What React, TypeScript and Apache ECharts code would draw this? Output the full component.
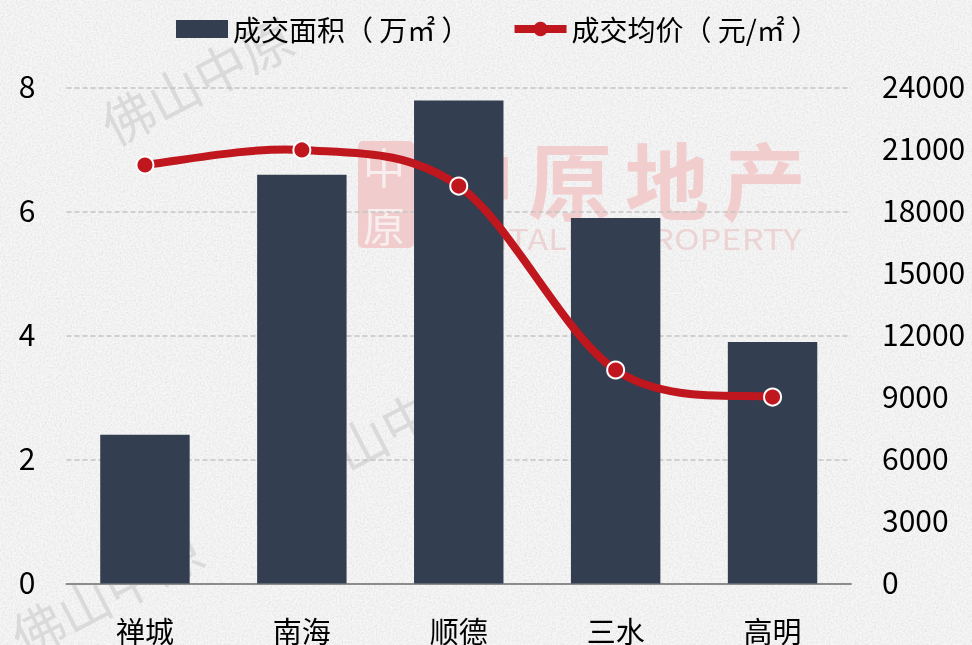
import React, { useEffect, useRef } from "react";
import * as echarts from "echarts";

const categories = ["禅城", "南海", "顺德", "三水", "高明"];
const areaValues = [2.4, 6.6, 7.8, 5.9, 3.9];
const priceValues = [20270, 21000, 19250, 10340, 9030];
const areaName = "成交面积（ 万㎡ ）";
const priceName = "成交均价（ 元/㎡ ）";
const watermarkText = "佛山中原";
const brandChars = ["中", "原", "地", "产"];
const brandEnglish = "CENTALINE PROPERTY";

const FONT = '"Noto Sans CJK SC", "Noto Sans", sans-serif';
const RED = "#c0161e";
const noise =
  "url(\"data:image/svg+xml;utf8,<svg xmlns='http://www.w3.org/2000/svg' width='972' height='645'><filter id='n'><feTurbulence type='fractalNoise' baseFrequency='0.55' numOctaves='3' seed='4'/><feColorMatrix values='0 0 0 0 0.55 0 0 0 0 0.55 0 0 0 0 0.55 0.9 0 0 0 -0.32'/></filter><rect width='972' height='645' fill='%23f6f6f6'/><rect width='972' height='645' filter='url(%23n)' opacity='0.7'/></svg>\")";

const wm = (x: number, y: number) => ({
  type: "text",
  x,
  y,
  rotation: 0.48,
  z: 0,
  silent: true,
  style: { text: watermarkText, fontFamily: FONT, fontSize: 52, fill: "#dadada", textVerticalAlign: "middle" },
});

const renderCurve = (params: any, api: any) => {
  const i = params.dataIndex;
  if (i >= priceValues.length - 1) return null;
  const n = priceValues.length;
  const p = (j: number) => {
    const k = Math.max(0, Math.min(n - 1, j));
    return api.coord([k, priceValues[k]]);
  };
  const a = p(i - 1);
  const b = p(i);
  const c = p(i + 1);
  const d = p(i + 2);
  return {
    type: "bezierCurve",
    shape: {
      x1: b[0],
      y1: b[1],
      x2: c[0],
      y2: c[1],
      cpx1: b[0] + (c[0] - a[0]) / 6,
      cpy1: b[1] + (c[1] - a[1]) / 6,
      cpx2: c[0] - (d[0] - b[0]) / 6,
      cpy2: c[1] - (d[1] - b[1]) / 6,
    },
    style: { stroke: RED, lineWidth: 8, fill: "none", lineCap: "round" },
  };
};

export default function App() {
  const ref = useRef<HTMLDivElement>(null);
  useEffect(() => {
    document.body.style.margin = "0";
    const chart = echarts.init(ref.current!, undefined, { renderer: "svg" });
    chart.setOption({
      animation: false,
      backgroundColor: "transparent",
      textStyle: { fontFamily: FONT },
      grid: { left: 66.5, right: 121, top: 88, bottom: 61.5 },
      legend: {
        top: 10,
        left: 171,
        itemGap: 41,
        itemHeight: 18,
        itemWidth: 52,
        textStyle: { fontSize: 28, color: "#000", fontFamily: FONT },
        data: [
          { name: areaName, icon: "rect" },
          {
            name: priceName,
            lineStyle: { color: RED, width: 8, opacity: 1 },
            itemStyle: { color: RED, borderWidth: 0 },
          },
        ],
      },
      graphic: [
        wm(104, 127),
        wm(291, 477),
        wm(14, 639),
        {
          type: "rect",
          z: 0,
          silent: true,
          shape: { x: 358, y: 141, width: 56, height: 107, r: 5 },
          style: { fill: "#f1cccc" },
        },
        {
          type: "text",
          x: 384,
          y: 165,
          z: 0,
          silent: true,
          style: { text: brandChars[0], fontFamily: FONT, fontSize: 42, fill: "#f8eeee", textAlign: "center", textVerticalAlign: "middle" },
        },
        {
          type: "text",
          x: 384,
          y: 223,
          z: 0,
          silent: true,
          style: { text: brandChars[1], fontFamily: FONT, fontSize: 42, fill: "#f8eeee", textAlign: "center", textVerticalAlign: "middle" },
        },
        ...brandChars.map((ch, i) => ({
          type: "text",
          x: 473 + i * 97,
          y: 177,
          z: 0,
          silent: true,
          style: { text: ch, fontFamily: FONT, fontWeight: "bold", fontSize: 84, fill: "#f1cdcd", textAlign: "center", textVerticalAlign: "middle" },
        })),
        {
          type: "text",
          x: 441,
          y: 237,
          scaleX: 1.19,
          z: 0,
          silent: true,
          style: { text: brandEnglish, fontFamily: FONT, fontSize: 29, fill: "#ecd4d4", textVerticalAlign: "middle" },
        },
      ],
      xAxis: {
        type: "category",
        data: categories,
        axisTick: { show: false },
        axisLine: { lineStyle: { color: "#8c8c8c", width: 2 } },
        axisLabel: { fontSize: 29, color: "#000", margin: 32, fontFamily: FONT },
      },
      yAxis: [
        {
          type: "value",
          min: 0,
          max: 8,
          interval: 2,
          axisLine: { show: false },
          axisTick: { show: false },
          axisLabel: { fontSize: 30, color: "#000", margin: 31, fontFamily: FONT, verticalAlign: "bottom", lineHeight: 6 },
          splitLine: { lineStyle: { color: "#c4c4c4", type: [5, 3], width: 1.5 } },
        },
        {
          type: "value",
          min: 0,
          max: 24000,
          interval: 3000,
          position: "right",
          axisLine: { show: false },
          axisTick: { show: false },
          axisLabel: {
            fontSize: 30,
            color: "#000",
            margin: 31,
            fontFamily: FONT,
            verticalAlign: "bottom",
            lineHeight: 6,
            formatter: (v: number) => String(v),
          },
          splitLine: { show: false },
        },
      ],
      series: [
        {
          name: areaName,
          type: "bar",
          data: areaValues,
          barWidth: "57%",
          itemStyle: { color: "#333e50" },
        },
        {
          name: "曲线",
          type: "custom",
          yAxisIndex: 1,
          z: 3,
          clip: false,
          data: priceValues.map((v, i) => [i, v]),
          encode: { x: 0, y: 1 },
          renderItem: renderCurve,
        },
        {
          name: priceName,
          type: "line",
          yAxisIndex: 1,
          z: 4,
          data: priceValues,
          symbol: "circle",
          symbolSize: 17,
          lineStyle: { opacity: 0 },
          itemStyle: { color: RED, borderColor: "#fff", borderWidth: 2 },
        },
      ],
    });
    return () => chart.dispose();
  }, []);
  return (
    <div
      ref={ref}
      style={{
        position: "fixed",
        left: 0,
        top: 0,
        width: 972,
        height: 645,
        backgroundImage: noise,
      }}
    />
  );
}
